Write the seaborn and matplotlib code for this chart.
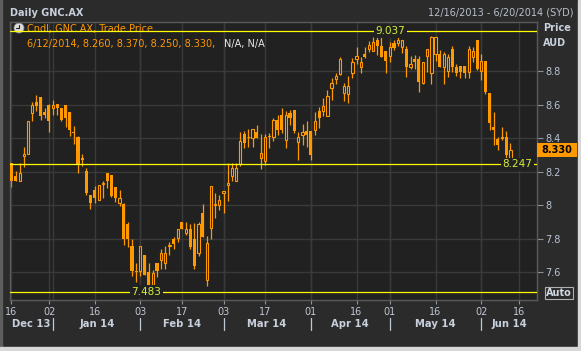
import numpy as np
import pandas as pd
import seaborn as sns
import matplotlib.pyplot as plt
from matplotlib import transforms
from matplotlib.patches import Rectangle, Circle
from matplotlib.lines import Line2D

# daily candles GNC.AX, 16 Dec 2013 .. 12 Jun 2014 (trading-day index)
opens = [8.25, 8.175, 8.142, 8.29, 8.307, 8.55, 8.613, 8.642, 8.554, 8.595,
         8.579, 8.601, 8.581, 8.595, 8.554, 8.435, 8.406, 8.282, 8.205, 8.057,
         8.087, 8.032, 8.128, 8.193, 8.181, 8.106, 8.012, 8.008, 7.886, 7.756,
         7.606, 7.604, 7.702, 7.598, 7.496, 7.653, 7.669, 7.653, 7.756, 7.795,
         7.801, 7.901, 7.83, 7.854, 7.795, 7.712, 7.955, 7.551, 7.86, 8.0,
         8.002, 8.071, 8.118, 8.171, 8.146, 8.244, 8.422, 8.404, 8.402, 8.435,
         8.278, 8.26, 8.41, 8.407, 8.505, 8.535, 8.391, 8.549, 8.569, 8.377,
         8.42, 8.44, 8.44, 8.45, 8.563, 8.563, 8.533, 8.697, 8.752, 8.782,
         8.667, 8.661, 8.786, 8.871, 8.821, 8.9, 8.93, 8.918, 8.983, 8.95,
         8.918, 8.89, 8.969, 8.969, 8.944, 8.934, 8.821, 8.871, 8.871, 8.727,
         8.888, 8.786, 8.9, 8.9, 8.821, 8.8, 8.93, 8.821, 8.829, 8.829,
         8.796, 8.881, 8.983, 8.8, 8.859, 8.667, 8.464, 8.395, 8.401, 8.405,
         8.26]
highs = [8.25, 8.205, 8.248, 8.347, 8.504, 8.615, 8.654, 8.642, 8.579, 8.603,
         8.625, 8.601, 8.581, 8.595, 8.554, 8.471, 8.41, 8.303, 8.221, 8.057,
         8.116, 8.122, 8.146, 8.193, 8.181, 8.106, 8.087, 8.012, 7.898, 7.797,
         7.653, 7.756, 7.702, 7.653, 7.61, 7.653, 7.736, 7.756, 7.781, 7.811,
         7.854, 7.901, 7.896, 7.886, 7.89, 7.9, 8.004, 7.815, 8.114, 8.073,
         8.061, 8.085, 8.248, 8.248, 8.248, 8.437, 8.441, 8.451, 8.451, 8.475,
         8.422, 8.426, 8.43, 8.519, 8.535, 8.582, 8.563, 8.569, 8.569, 8.434,
         8.486, 8.5, 8.44, 8.553, 8.588, 8.638, 8.687, 8.756, 8.786, 8.886,
         8.73, 8.772, 8.879, 8.944, 8.884, 8.944, 8.977, 9.003, 9.003, 9.037,
         8.918, 8.973, 8.983, 9.003, 8.983, 8.95, 8.89, 8.894, 8.89, 8.851,
         8.93, 9.009, 9.003, 8.924, 8.914, 8.904, 8.95, 8.841, 8.829, 8.829,
         8.95, 8.944, 8.983, 8.9, 8.859, 8.667, 8.553, 8.405, 8.464, 8.44,
         8.37]
lows = [8.11, 8.142, 8.142, 8.229, 8.307, 8.504, 8.564, 8.506, 8.52, 8.437,
        8.54, 8.536, 8.5, 8.465, 8.412, 8.363, 8.189, 8.234, 8.057, 7.976,
        8.012, 8.032, 8.043, 8.1, 8.047, 8.018, 7.992, 7.762, 7.752, 7.574,
        7.539, 7.578, 7.58, 7.483, 7.496, 7.57, 7.62, 7.62, 7.702, 7.74,
        7.781, 7.854, 7.82, 7.736, 7.62, 7.693, 7.811, 7.519, 7.797, 7.925,
        7.968, 7.953, 8.024, 8.146, 8.146, 8.232, 8.343, 8.347, 8.347, 8.402,
        8.215, 8.24, 8.342, 8.385, 8.42, 8.43, 8.342, 8.48, 8.43, 8.267,
        8.361, 8.347, 8.27, 8.42, 8.46, 8.529, 8.533, 8.624, 8.721, 8.776,
        8.618, 8.608, 8.756, 8.839, 8.786, 8.875, 8.914, 8.918, 8.894, 8.881,
        8.786, 8.855, 8.924, 8.95, 8.91, 8.766, 8.811, 8.809, 8.677, 8.721,
        8.796, 8.721, 8.859, 8.825, 8.721, 8.766, 8.796, 8.772, 8.76, 8.756,
        8.756, 8.851, 8.806, 8.746, 8.661, 8.446, 8.357, 8.328, 8.387, 8.278,
        8.25]
closes = [8.146, 8.142, 8.191, 8.303, 8.504, 8.599, 8.589, 8.53, 8.536, 8.5,
          8.595, 8.579, 8.506, 8.52, 8.447, 8.431, 8.244, 8.27, 8.071, 8.012,
          8.039, 8.122, 8.132, 8.142, 8.055, 8.043, 8.043, 7.797, 7.797, 7.604,
          7.602, 7.756, 7.58, 7.515, 7.594, 7.604, 7.712, 7.712, 7.76, 7.766,
          7.854, 7.854, 7.854, 7.752, 7.633, 7.886, 7.811, 7.771, 8.114, 8.004,
          8.032, 8.085, 8.132, 8.221, 8.221, 8.38, 8.372, 8.408, 8.451, 8.402,
          8.309, 8.404, 8.405, 8.505, 8.446, 8.446, 8.535, 8.519, 8.444, 8.405,
          8.434, 8.42, 8.298, 8.503, 8.519, 8.594, 8.653, 8.73, 8.772, 8.871,
          8.711, 8.711, 8.851, 8.888, 8.855, 8.886, 8.958, 8.973, 8.95, 8.881,
          8.861, 8.944, 8.938, 8.983, 8.983, 8.821, 8.841, 8.855, 8.736, 8.851,
          8.93, 9.003, 9.003, 8.825, 8.9, 8.884, 8.821, 8.786, 8.796, 8.786,
          8.93, 8.918, 8.811, 8.859, 8.677, 8.49, 8.446, 8.357, 8.403, 8.298,
          8.33]

day_tick_pos = [0, 9.1, 20, 31, 41, 51, 61, 72, 83, 91, 102, 113, 122]
day_tick_labels = ['16', '02', '16', '03', '17', '03', '17', '01', '16', '01', '16', '02', '16']
month_sep_pos = [10, 31, 51, 72, 91, 113]
month_labels = ['Dec 13', 'Jan 14', 'Feb 14', 'Mar 14', 'Apr 14', 'May 14', 'Jun 14']
price_ticks = [7.6, 7.8, 8.0, 8.2, 8.4, 8.6, 8.8]
price_labels = ['7.6', '7.8', '8', '8.2', '8.4', '8.6', '8.8']
high_level = 9.037
low_level = 7.483
ref_level = 8.247
last_price = 8.330

ORANGE = '#ff9900'
FIG_BG = '#2b2b2b'
AX_BG = '#212121'
GRID = '#3a3a3a'
TXT = '#c8d0dc'
YELLOW = '#ffff00'
LABEL_Y = '#d4ee3c'

sns.set_theme(style='dark', rc={'axes.facecolor': AX_BG, 'figure.facecolor': FIG_BG,
                                'grid.color': GRID, 'axes.edgecolor': '#5a5a5a'})
plt.rcParams['font.family'] = ['DejaVu Sans']

df = pd.DataFrame({'idx': np.arange(len(opens)), 'open': opens, 'high': highs,
                   'low': lows, 'close': closes})
df['up'] = df['close'] >= df['open']
df['body_lo'] = df[['open', 'close']].min(axis=1)
df['body_h'] = (df['close'] - df['open']).abs().clip(lower=0.005)

fig = plt.figure(figsize=(5.81, 3.51), dpi=100)
ax = fig.add_axes([10 / 581, 51 / 351, 527 / 581, 278 / 351])

# wicks
ax.vlines(df['idx'], df['low'], df['high'], color=ORANGE, lw=0.9, zorder=2)

# bodies: filled = down day, hollow = up day
down = df[~df['up']]
up = df[df['up']]
sns.barplot(data=down, x='idx', y='body_h', bottom=down['body_lo'].values, native_scale=True,
            width=0.75, color=ORANGE, saturation=1, errorbar=None, linewidth=0,
            zorder=3, ax=ax)
sns.barplot(data=up, x='idx', y='body_h', bottom=up['body_lo'].values, native_scale=True,
            width=0.55, color=ORANGE, saturation=1, errorbar=None, facecolor=AX_BG,
            edgecolor=ORANGE, linewidth=0.8, zorder=3, ax=ax)

ax.set_xlim(-0.35, 126.4)
ax.set_ylim(7.433, 9.0925)
ax.set_xlabel('')
ax.set_ylabel('')

ax.set_xticks(day_tick_pos)
ax.set_xticklabels(day_tick_labels)
ax.set_yticks(price_ticks)
ax.set_yticklabels(price_labels)
ax.get_yticklabels()[2].set_fontweight('bold')
ax.yaxis.tick_right()
ax.tick_params(axis='y', right=True, left=False, length=4, width=0.8, color='#8a949e',
               labelcolor='#b8c4d4', labelsize=7, pad=2)
ax.tick_params(axis='x', bottom=True, length=3, width=0.8, color='#8a949e',
               labelcolor='#c0c8d4', labelsize=7, pad=2)
ax.grid(True, color=GRID, lw=1.0)
for s in ax.spines.values():
    s.set_color('#5a5a5a')
    s.set_linewidth(1.0)
for xs in month_sep_pos:
    ax.axvline(xs, color=GRID, lw=1.0, zorder=0.5)

# reference levels
ax.axhline(high_level, color=YELLOW, lw=0.9, zorder=5)
ax.axhline(low_level, color=YELLOW, lw=0.9, zorder=5)
ax.axhline(ref_level, color=YELLOW, lw=0.9, zorder=5)
lab_kw = dict(ha='center', va='center', color=LABEL_Y, fontsize=7.5, zorder=6,
              bbox=dict(facecolor=AX_BG, edgecolor='none', pad=1.2))
ax.text(91.2, high_level, f'{high_level:.3f}', **lab_kw)
ax.text(32.4, low_level, f'{low_level:.3f}', **lab_kw)
ax.text(121.7, ref_level - 0.004, f'{ref_level:.3f}', **lab_kw)

# last price tag
blend_y = transforms.blended_transform_factory(ax.transAxes, ax.transData)
ax.add_patch(Rectangle((1.0, last_price - 0.042), 40 / 527, 0.084, transform=blend_y,
                       facecolor=ORANGE, edgecolor='none', clip_on=False, zorder=7))
ax.text(1.0 + 20 / 527, last_price, f'{last_price:.3f}', transform=blend_y, ha='center',
        va='center', color='black', fontsize=7, fontweight='bold', zorder=8)

# month row
blend_x = transforms.blended_transform_factory(ax.transData, ax.transAxes)
xmin, xmax = ax.get_xlim()
edges = [xmin] + month_sep_pos + [xmax]
for i, lab in enumerate(month_labels):
    ax.text((edges[i] + edges[i + 1]) / 2, -0.0863, lab, transform=blend_x, ha='center',
            va='center', color=TXT, fontsize=7.2, fontweight='bold')
for xs in month_sep_pos:
    ax.add_line(Line2D([xs, xs], [-0.0647, -0.1079], transform=blend_x, color='#c0c8d4',
                       lw=0.9, clip_on=False))

# header / legend
fig.text(10 / 581, 1 - 12.5 / 351, 'Daily GNC.AX', color=TXT, fontsize=7, fontweight='bold',
         va='center')
fig.text(574 / 581, 1 - 12.5 / 351, '12/16/2013 - 6/20/2014 (SYD)', color='#b8c0cc',
         fontsize=7, ha='right', va='center')
ax.text(27 / 581, 1 - 29 / 351, 'Cndl, GNC.AX, Trade Price', transform=fig.transFigure,
        color=ORANGE, fontsize=7, va='center', zorder=1)
ax.text(27 / 581, 1 - 44 / 351, '6/12/2014, 8.260, 8.370, 8.250, 8.330,',
        transform=fig.transFigure, color=ORANGE, fontsize=7, va='center', zorder=1)
ax.text(224 / 581, 1 - 44 / 351, 'N/A, N/A', transform=fig.transFigure, color='#e8e8e8',
        fontsize=7, va='center', zorder=1)
ax.add_patch(Circle((0.19, 3.51 - 0.28), 0.05, transform=fig.dpi_scale_trans,
                    facecolor='#dcdcdc', edgecolor='#8a8a8a', lw=0.6, clip_on=False, zorder=1))
ax.add_line(Line2D([0.19, 0.19], [3.23, 3.26], transform=fig.dpi_scale_trans, color='#222222',
                   lw=0.8, clip_on=False, zorder=1.1))
ax.add_line(Line2D([0.19, 0.16], [3.23, 3.23], transform=fig.dpi_scale_trans, color='#222222',
                   lw=0.8, clip_on=False, zorder=1.1))

fig.text(543 / 581, 1 - 28 / 351, 'Price', color=TXT, fontsize=7, fontweight='bold', va='center')
fig.text(543 / 581, 1 - 43 / 351, 'AUD', color=TXT, fontsize=7, fontweight='bold', va='center')
fig.text(559 / 581, 1 - 293 / 351, 'Auto', color='#d0d8e0', fontsize=7, fontweight='bold',
         ha='center', va='center',
         bbox=dict(facecolor=FIG_BG, edgecolor='#b0b0b0', lw=0.8, pad=1.0))

# window borders
fig.add_artist(Rectangle((0, 0), 2 / 581, 1, transform=fig.transFigure, color='#5e5e5e'))
fig.add_artist(Rectangle((578 / 581, 0), 3 / 581, 1, transform=fig.transFigure, color='#d8d8d8'))
fig.add_artist(Rectangle((0, 0), 1, 4 / 351, transform=fig.transFigure, color='#d8d8d8'))

fig.savefig('out.png', dpi=100, facecolor=FIG_BG)
